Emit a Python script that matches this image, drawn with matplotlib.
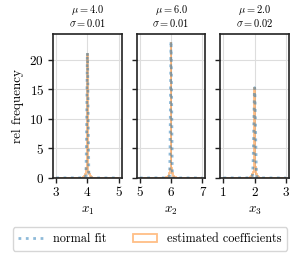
import numpy as np
import matplotlib
matplotlib.use("Agg")
import matplotlib.pyplot as plt

plt.rcParams.update({
    "font.family": "serif",
    "font.serif": ["cmr10"],
    "mathtext.fontset": "cm",
    "axes.formatter.use_mathtext": True,
    "font.size": 9,
})

# ---- data ----
mus = [4.0, 6.0, 2.0]
sigma_fit = [0.0188, 0.0172, 0.0261]
sigma_labels = ["0.01", "0.01", "0.02"]
xlabels = [r"$x_1$", r"$x_2$", r"$x_3$"]
bin_width = 0.02
# relative offsets (in bins) of the non-empty histogram bins around mu
bin_offsets = list(range(-8, 9))
hist_dens = [
    [0.05, 0.1, 0.2, 0.3, 0.5, 0.7, 1.0, 1.6, 21.0, 1.7, 1.0, 0.7, 0.5, 0.3, 0.2, 0.1, 0.05],
    [0.05, 0.1, 0.2, 0.3, 0.4, 0.6, 0.9, 1.5, 23.0, 1.6, 0.9, 0.6, 0.4, 0.3, 0.2, 0.1, 0.05],
    [0.05, 0.1, 0.2, 0.3, 0.5, 0.7, 1.0, 1.8, 15.2, 1.9, 1.0, 0.7, 0.5, 0.3, 0.2, 0.1, 0.05],
]

blue = "#1f77b4"
orange = "#ff7f0e"

fig, axes = plt.subplots(1, 3, sharey=True, figsize=(3.0, 2.59), dpi=100)
fig.subplots_adjust(left=0.177, right=0.963, top=0.869, bottom=0.313, wspace=0.22)

for i, ax in enumerate(axes):
    mu = mus[i]
    nb = int(round(2.0 / bin_width)) + 1
    edges = mu - 1.0 - bin_width / 2 + bin_width * np.arange(nb + 1)
    centers = 0.5 * (edges[:-1] + edges[1:])
    weights = np.zeros(nb)
    mid = nb // 2
    for off, d in zip(bin_offsets, hist_dens[i]):
        weights[mid + off] = d
    ax.hist(centers, bins=edges, weights=weights, histtype="step",
            color=orange, alpha=0.5, lw=1.3, label="estimated coefficients")
    xs = np.linspace(mu - 1, mu + 1, 2001)
    s = sigma_fit[i]
    pdf = np.exp(-0.5 * ((xs - mu) / s) ** 2) / (s * np.sqrt(2 * np.pi))
    ax.plot(xs, pdf, ls=":", color=blue, alpha=0.5, lw=2, label="normal fit")
    ax.set_xlim(mu - 1.1, mu + 1.1)
    ax.set_xticks([mu - 1, mu, mu + 1])
    ax.set_xticklabels([f"{int(mu - 1)}", f"{int(mu)}", f"{int(mu + 1)}"])
    ax.set_xlabel(xlabels[i], fontsize=9.5, labelpad=4)
    ax.set_title(r"$\mu=$" + f"{mu:.1f}" + "\n" + r"$\sigma=$" + sigma_labels[i],
                 fontsize=7.5, linespacing=0.95, pad=5)
    ax.grid(True, color="#dddddd", lw=0.8)
    ax.set_axisbelow(True)
    for sp in ax.spines.values():
        sp.set_color("#222222")
        sp.set_linewidth(1.2)
    ax.tick_params(direction="out", length=3.5, width=1.0, color="#222222", pad=3,
                   labelsize=9.5)

axes[0].set_ylim(0, 24.4)
axes[0].set_yticks([0, 5, 10, 15, 20])
axes[0].set_ylabel("rel frequency", fontsize=9.5)

h, l = axes[0].get_legend_handles_labels()
order = [1, 0]
leg = fig.legend([h[k] for k in order], [l[k] for k in order], loc="center",
                 bbox_to_anchor=(0.5, 0.077), ncol=2, fontsize=8.8,
                 frameon=True, fancybox=True, edgecolor="#cccccc",
                 handlelength=2.0, columnspacing=2.2, borderpad=0.45,
                 handletextpad=0.8)

fig.savefig("out.png", dpi=100)
